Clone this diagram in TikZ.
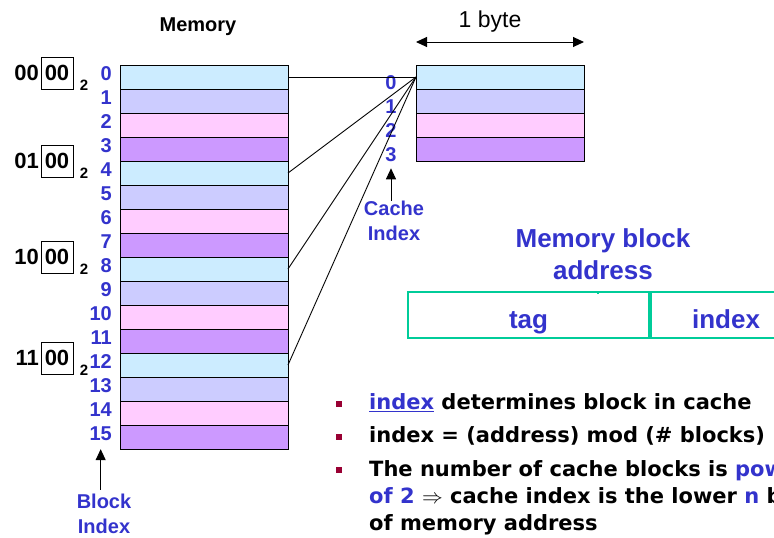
\documentclass[tikz,border=0pt]{standalone}
\usepackage{fontspec}
\setmainfont{Liberation Sans}
\newfontfamily\bulletfont{DejaVu Sans}
\usetikzlibrary{arrows.meta}
\usetikzlibrary{positioning}
\definecolor{mblue}{RGB}{51,51,204}
\definecolor{cellA}{RGB}{204,236,255}
\definecolor{cellB}{RGB}{204,204,255}
\definecolor{cellC}{RGB}{255,204,255}
\definecolor{cellD}{RGB}{204,153,255}
\definecolor{fieldgreen}{RGB}{0,204,153}
\definecolor{bulletred}{RGB}{153,0,51}
\tikzset{cell/.style = {draw, line width=1pt, minimum width=168pt, minimum height=24pt,
                        inner sep=0pt, outer sep=0pt},
         idx/.style  = {text=mblue, inner sep=0pt, font=\fontsize{20}{25}\selectfont\bfseries},
         addr/.style = {inner sep=0pt, font=\fontsize{22}{26}\selectfont\bfseries},
         field/.style = {draw=fieldgreen, line width=2pt, minimum height=46pt, inner sep=0pt,
                         text height=26pt, text depth=0pt,
                         text=mblue, font=\fontsize{26}{30}\selectfont\bfseries},
         bul/.style  = {fill=bulletred, minimum size=6pt, inner sep=0pt},
         btext/.style = {anchor=west, inner sep=0pt, align=left,
                         font=\bulletfont\fontsize{21}{27}\selectfont\bfseries},
         tip/.style  = {-{Triangle[length=11pt,width=10pt]}, line width=1pt}}

\begin{document}
\begin{tikzpicture}[x=1pt, y=-1pt]
    \useasboundingbox (0,0) rectangle (774,538);
    \clip (0,0) rectangle (774,538);
    % memory
    \node [font=\fontsize{20}{23}\selectfont\bfseries] (memtitle) at (198,27) {Memory};
    \foreach \g in {0,...,3}
      \foreach \c [count=\k from 0] in {cellA,cellB,cellC,cellD} {
        \pgfmathtruncatemacro\n{4*\g+\k}
        \node [cell, fill=\c] (m\n) at (204,{77+24*\n}) {};
        \node [idx, anchor=east] (n\n) at (112,{74+24*\n}) {\n};
      }
    \foreach \hb/\y [count=\k] in {00/73,01/161,10/257,11/358} {
      \node [addr, anchor=east] (hi\k) at (39,\y) {\hb};
      \node [addr, draw, line width=0.8pt, minimum size=32pt] (lo\k) at (57,\y) {00};
      \node [inner sep=0pt, font=\fontsize{15}{17}\selectfont\bfseries] (base\k) at (84,\y+12) {2};
    }
    % cache
    \foreach \c [count=\k from 0] in {cellA,cellB,cellC,cellD} {
      \node [cell, fill=\c] (c\k) at (500,{77+24*\k}) {};
      \node [idx] (ci\k) at (391,{83+24*\k}) {\k};
    }
    \foreach \k in {0,4,8,12}
      \draw [line width=0.9pt] (m\k.east) -- (c0.west);
    \coordinate (byteL) at (416,42);
    \coordinate (byteR) at (584,42);
    \draw [{Triangle[length=11pt,width=10pt]}-{Triangle[length=11pt,width=10pt]}, line width=1pt] (byteL) -- (byteR);
    \node [font=\fontsize{23}{26}\selectfont] (byte) at (490,22) {1 byte};
    \node [idx, align=center] (cacheidx) at (394,221) {Cache\\Index};
    \draw [tip, shorten >=6pt] (cacheidx.north -| ci3) -- (ci3.south);
    \node [idx, align=center] (blockidx) at (104,514) {Block\\Index};
    \draw [tip, shorten >=8pt, shorten <=4pt] (blockidx.north -| n15) -- (n15.south);
    % address fields
    \node [idx, align=center, font=\fontsize{26}{32}\selectfont\bfseries] (mba) at (603,254) {Memory block\\address};
    \node [field, minimum width=241pt] (tag) at (528.5,315) {tag};
    \node [field, minimum width=150pt, right=0pt of tag] (index) {index};
    \draw [fieldgreen, line width=1.5pt] (tag.north -| 598,0) -- +(0,3);
    % bullets
    \node [bul] (b1) at (339,404) {};
    \node [btext] (t1) at (369,403) {\textcolor{mblue}{\underline{index}} determines block in cache};
    \node [bul] (b2) at (339,437) {};
    \node [btext] (t2) at (369,436) {index = (address) mod (\# blocks)};
    \node [bul] (b3) at (339,470) {};
    \node [btext, anchor=north west] (t3) at (369,460) {The number of cache blocks is \textcolor{mblue}{power}\\
      \textcolor{mblue}{of 2} {\normalfont$\Rightarrow$} cache index is the lower \textcolor{mblue}{n} bits\\
      of memory address};
\end{tikzpicture}
\end{document}
